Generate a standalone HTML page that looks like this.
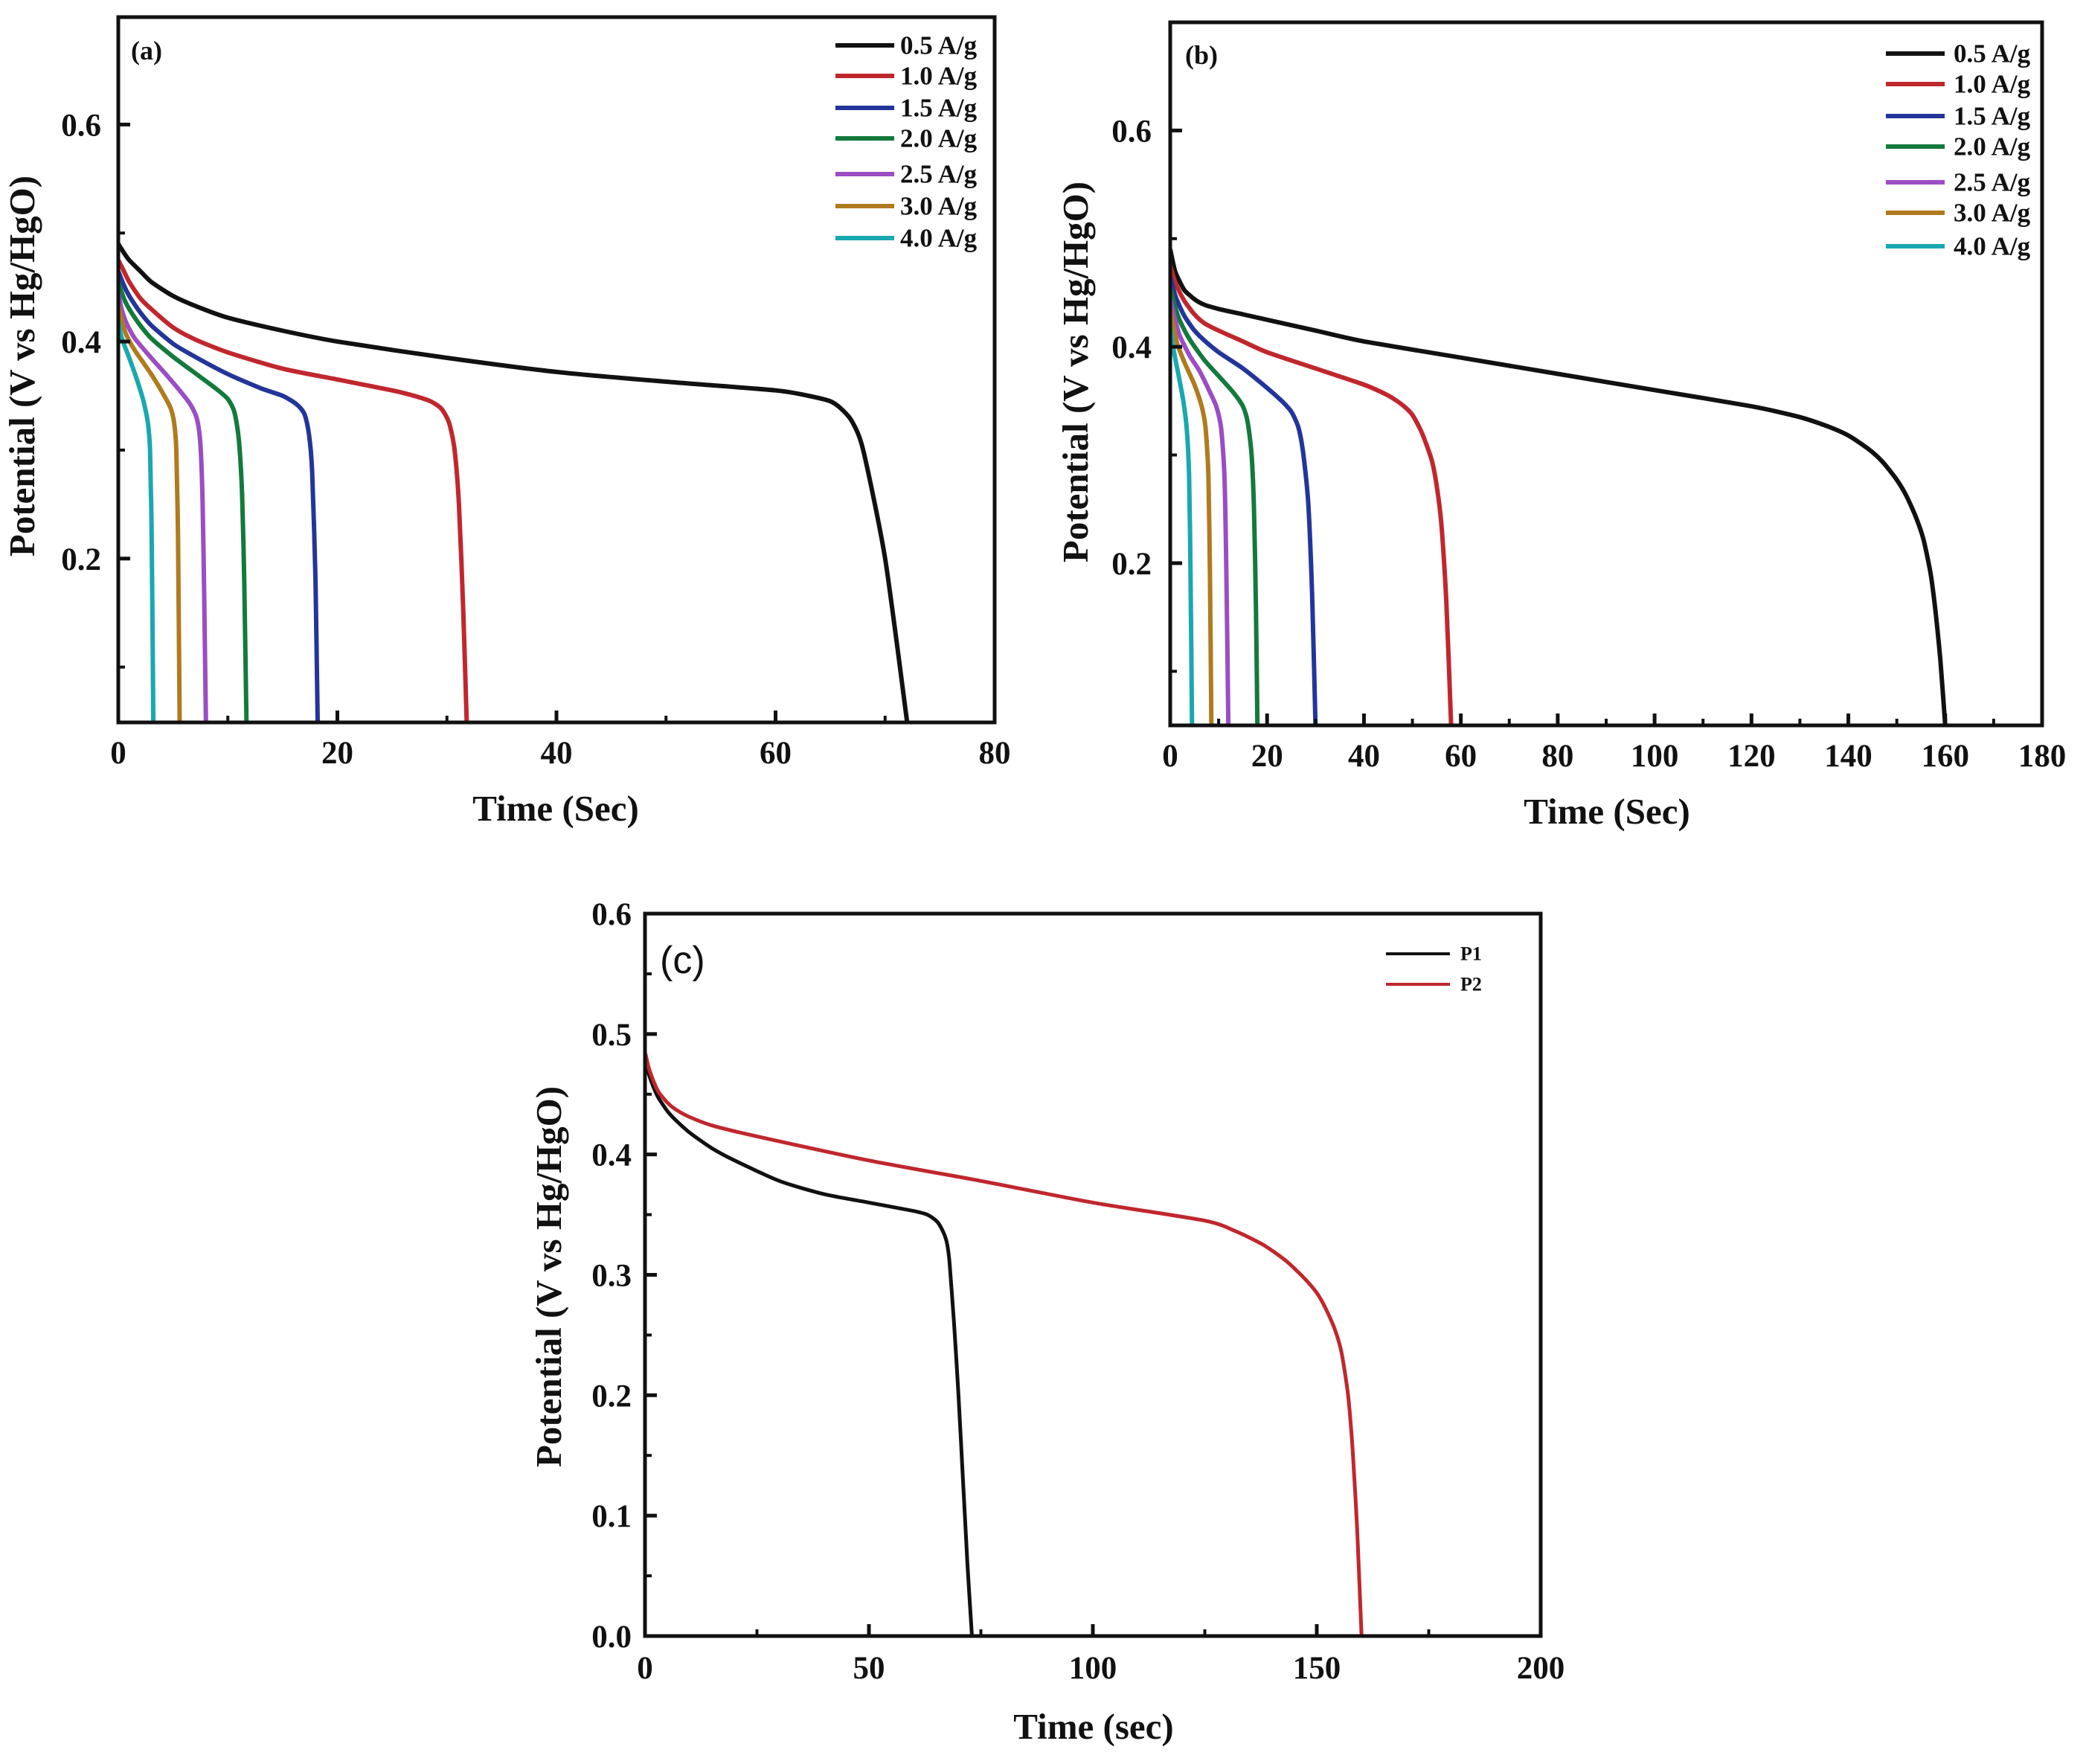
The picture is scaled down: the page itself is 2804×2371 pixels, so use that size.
<!DOCTYPE html>
<html><head><meta charset="utf-8">
<style>
html,body{margin:0;padding:0;background:#fff;}
svg{display:block;}
text{font-family:"Liberation Serif",serif;font-weight:bold;fill:#111;}
</style></head>
<body>
<svg id="fig" width="2804" height="2371" viewBox="0 0 2804 2371" xmlns="http://www.w3.org/2000/svg"></svg>
<script>
// ---------- Panel (a) data ----------
const aLabels = ["0.5 A/g","1.0 A/g","1.5 A/g","2.0 A/g","2.5 A/g","3.0 A/g","4.0 A/g"];
const aColors = ["#111111","#c0272d","#23359a","#137a3c","#9b4dc4","#b07a1e","#1aa8b0"];
const aT05 = [0,0.5,1,2,3,5,7,10,15,20,30,40,50,60,63,65,66,67,68,70,72];
const aV05 = [0.49,0.482,0.475,0.465,0.455,0.442,0.433,0.422,0.41,0.40,0.385,0.372,0.363,0.355,0.35,0.345,0.338,0.326,0.3,0.2,0.05];
const aT10 = [0,0.5,1,2,3,5,7,10,15,20,25,27,28.5,29.5,30.2,30.7,31.1,31.5,31.8];
const aV10 = [0.475,0.465,0.455,0.44,0.43,0.413,0.402,0.39,0.375,0.365,0.355,0.35,0.345,0.338,0.325,0.3,0.25,0.15,0.05];
const aT15 = [0,0.5,1,2,3,5,7,10,13,15,16.3,17,17.4,17.7,18,18.2];
const aV15 = [0.465,0.452,0.442,0.427,0.415,0.398,0.386,0.37,0.357,0.35,0.342,0.333,0.315,0.28,0.18,0.05];
const aT20 = [0,0.5,1,2,3,5,7,9,10,10.6,11,11.3,11.5,11.7];
const aV20 = [0.455,0.44,0.43,0.415,0.403,0.386,0.371,0.356,0.347,0.335,0.31,0.26,0.18,0.05];
const aT25 = [0,0.3,0.7,1.5,3,4.5,6,6.7,7.2,7.5,7.7,7.85,8];
const aV25 = [0.445,0.43,0.418,0.403,0.385,0.368,0.35,0.34,0.328,0.305,0.25,0.16,0.05];
const aT30 = [0,0.3,0.7,1.5,3,4.2,4.8,5.1,5.3,5.45,5.6];
const aV30 = [0.435,0.42,0.407,0.392,0.37,0.35,0.338,0.325,0.3,0.22,0.05];
const aT40 = [0,0.2,0.5,1,1.7,2.3,2.7,2.9,3.05,3.2];
const aV40 = [0.42,0.408,0.398,0.385,0.365,0.345,0.325,0.3,0.22,0.05];
const aTs = [aT05,aT10,aT15,aT20,aT25,aT30,aT40];
const aVs = [aV05,aV10,aV15,aV20,aV25,aV30,aV40];
const aXTicks = [0,20,40,60,80];
const aYTicks = [0.2,0.4,0.6];

// ---------- Panel (b) data ----------
const bT05 = [0,1,2,3,5,7,10,15,20,30,40,60,80,100,120,130,136,140,144,147,150,152,154,155.5,157,158,159,160];
const bV05 = [0.49,0.47,0.46,0.452,0.444,0.439,0.435,0.43,0.425,0.415,0.405,0.39,0.375,0.36,0.345,0.335,0.326,0.318,0.306,0.294,0.277,0.262,0.242,0.222,0.19,0.155,0.11,0.05];
const bT10 = [0,1,2,3,5,7,10,15,20,30,40,45,48,50,52,54,55,56,57,58];
const bV10 = [0.475,0.46,0.45,0.442,0.43,0.422,0.415,0.405,0.395,0.38,0.365,0.355,0.346,0.337,0.32,0.295,0.272,0.235,0.165,0.05];
const bT15 = [0,1,2,3,5,7,10,15,20,23,25,26.5,27.5,28.5,29.3,30];
const bV15 = [0.465,0.448,0.437,0.428,0.415,0.406,0.395,0.38,0.362,0.35,0.34,0.325,0.3,0.255,0.17,0.05];
const bT20 = [0,1,2,4,7,10,13,15,16,16.8,17.3,17.7,18];
const bV20 = [0.455,0.437,0.424,0.407,0.388,0.373,0.358,0.345,0.33,0.3,0.25,0.16,0.05];
const bT25 = [0,1,2,4,6,8,9.5,10.5,11.2,11.6,12];
const bV25 = [0.445,0.425,0.41,0.392,0.378,0.36,0.345,0.325,0.28,0.19,0.05];
const bT30 = [0,0.7,1.5,3,5,6.5,7.3,7.9,8.2,8.5];
const bV30 = [0.435,0.418,0.402,0.385,0.365,0.345,0.325,0.28,0.19,0.05];
const bT40 = [0,0.4,1,1.8,2.7,3.4,3.9,4.2,4.5];
const bV40 = [0.42,0.405,0.39,0.372,0.35,0.325,0.28,0.19,0.05];
const bTs = [bT05,bT10,bT15,bT20,bT25,bT30,bT40];
const bVs = [bV05,bV10,bV15,bV20,bV25,bV30,bV40];
const bXTicks = [0,20,40,60,80,100,120,140,160,180];
const bYTicks = [0.2,0.4,0.6];

// ---------- Panel (c) data ----------
const cLabels = ["P1","P2"];
const cColors = ["#111111","#c0272d"];
const cT1 = [0,0.5,1,2,3,5,7,10,15,20,30,40,50,60,63,65,66,67,67.5,68,69,70,71,72,73];
const cV1 = [0.48,0.472,0.465,0.455,0.447,0.436,0.428,0.418,0.405,0.395,0.378,0.367,0.36,0.353,0.35,0.345,0.34,0.332,0.325,0.31,0.26,0.2,0.13,0.06,0];
const cT2 = [0,0.5,1,2,3,5,7,10,15,25,50,75,100,125,132,138,143,147,150,152,154,155.5,157,158,159,160];
const cV2 = [0.485,0.477,0.47,0.46,0.452,0.443,0.437,0.431,0.424,0.415,0.395,0.378,0.36,0.345,0.336,0.325,0.312,0.298,0.285,0.272,0.255,0.236,0.2,0.155,0.09,0];
const cTs = [cT1,cT2];
const cVs = [cV1,cV2];
const cXTicks = [0,50,100,150,200];
const cYTicks = [0,0.1,0.2,0.3,0.4,0.5,0.6];

const NS = "http://www.w3.org/2000/svg";
const fig = document.getElementById('fig');
function mk(tag, attrs, parent){
  const e = document.createElementNS(NS, tag);
  for (const k in attrs) e.setAttribute(k, attrs[k]);
  (parent||fig).appendChild(e);
  return e;
}
function smoothPath(pts){
  // monotone-ish Catmull-Rom with reduced tension
  let d = 'M' + pts[0][0].toFixed(1) + ' ' + pts[0][1].toFixed(1);
  const k = 0.12;
  for (let i=0;i<pts.length-1;i++){
    const p0 = pts[Math.max(0,i-1)], p1 = pts[i], p2 = pts[i+1], p3 = pts[Math.min(pts.length-1,i+2)];
    const c1x = p1[0] + (p2[0]-p0[0])*k, c1y = p1[1] + (p2[1]-p0[1])*k;
    const c2x = p2[0] - (p3[0]-p1[0])*k, c2y = p2[1] - (p3[1]-p1[1])*k;
    d += ' C' + c1x.toFixed(1)+' '+c1y.toFixed(1)+' '+c2x.toFixed(1)+' '+c2y.toFixed(1)+' '+p2[0].toFixed(1)+' '+p2[1].toFixed(1);
  }
  return d;
}

function panel(cfg){
  const g = mk('g', {});
  
  
  const L=cfg.box[0], T=cfg.box[1], R=cfg.box[2], B=cfg.box[3];
  const sx = t => L + (t - cfg.x0)/(cfg.x1 - cfg.x0)*(R-L);
  const sy = v => B - (v - cfg.y0)/(cfg.y1 - cfg.y0)*(B-T);
  const cid = cfg.name + '-clip';
  const cp = mk('clipPath', {id: cid}, g);
  mk('rect', {x:L, y:T, width:R-L, height:B-T}, cp);
  cfg.ts.forEach((ts, i) => {
    const vs = cfg.vs[i];
    const pts = ts.map((t,j) => [sx(t), sy(vs[j])]);
    const p = mk('path', {d:smoothPath(pts), fill:'none', stroke:cfg.colors[i], 'stroke-width':cfg.lw, 'stroke-linejoin':'round', 'clip-path':'url(#'+cid+')'}, g);
    
    
  });
  const fr = mk('rect', {x:L, y:T, width:R-L, height:B-T, fill:'none', stroke:'#111', 'stroke-width':5}, g);
  
  
  for (let k=0;k<cfg.xTicks.length;k++){
    const t = cfg.xTicks[k], x = sx(t);
    mk('line', {x1:x, y1:B, x2:x, y2:B-16, stroke:'#111', 'stroke-width':5}, g);
    if (k < cfg.xTicks.length-1){
      const xm = sx((t + cfg.xTicks[k+1])/2);
      mk('line', {x1:xm, y1:B, x2:xm, y2:B-9, stroke:'#111', 'stroke-width':4}, g);
    }
    const tx = mk('text', {x:x, y:cfg.xLabY, 'font-size':cfg.tickFs, 'text-anchor':'middle'}, g);
    tx.textContent = String(t);
    
    
  }
  for (let k=0;k<cfg.yTicks.length;k++){
    const v = cfg.yTicks[k], y = sy(v);
    mk('line', {x1:L, y1:y, x2:L+16, y2:y, stroke:'#111', 'stroke-width':5}, g);
    const ty = mk('text', {x:cfg.yLabX, y:y+cfg.tickFs*0.35, 'font-size':cfg.tickFs, 'text-anchor':'end'}, g);
    ty.textContent = v.toFixed(1);
    
    
  }
  cfg.yMinor.forEach(v => { const y = sy(v); mk('line', {x1:L, y1:y, x2:L+9, y2:y, stroke:'#111', 'stroke-width':4}, g); });
  const xt = mk('text', {x:cfg.xTitle[0], y:cfg.xTitle[1], 'font-size':cfg.titleFs, 'text-anchor':'middle'}, g);
  xt.textContent = cfg.xTitleText;
  
  
  const yt = mk('text', {x:0, y:0, 'font-size':cfg.titleFs, 'text-anchor':'middle', transform:'translate('+cfg.yTitle[0]+','+cfg.yTitle[1]+') rotate(-90)'}, g);
  yt.textContent = 'Potential (V vs Hg/HgO)';
  
  
  const pl = mk('text', {x:cfg.tag[0], y:cfg.tag[1], 'font-size':cfg.tag[2], style:cfg.tagStyle||''}, g);
  pl.textContent = cfg.tagText;
  
  
  const lg = mk('g', {}, g);
  
  
  cfg.labels.forEach((lab, i) => {
    const y = cfg.legY[i];
    const e = mk('g', {}, lg);
    
    
    mk('line', {x1:cfg.legX[0], y1:y, x2:cfg.legX[1], y2:y, stroke:cfg.colors[i], 'stroke-width':cfg.legLw}, e);
    const t = mk('text', {x:cfg.legX[2], y:y + cfg.legFs*0.33, 'font-size':cfg.legFs}, e);
    t.textContent = lab;
  });
}

panel({name:'panel-a', box:[159,23,1337,971], x0:0, x1:80, y0:0.049, y1:0.699,
  ts:aTs, vs:aVs, colors:aColors, labels:aLabels, lw:6,
  xTicks:aXTicks, yTicks:aYTicks, yMinor:[0.1,0.3,0.5], tickFs:43, titleFs:49,
  xLabY:1026, yLabX:136, xTitle:[747,1103], xTitleText:'Time (Sec)', yTitle:[46,492],
  tag:[176,80,36], tagText:'(a)',
  legX:[1123,1202,1210], legY:[61,102,145,186,234,277,320], legFs:35, legLw:6});

panel({name:'panel-b', box:[1573,30,2745,975], x0:0, x1:180, y0:0.05, y1:0.7,
  ts:bTs, vs:bVs, colors:aColors, labels:aLabels, lw:6,
  xTicks:bXTicks, yTicks:bYTicks, yMinor:[0.1,0.3,0.5], tickFs:43, titleFs:49,
  xLabY:1030, yLabX:1548, xTitle:[2160,1107], xTitleText:'Time (Sec)', yTitle:[1462,500],
  tag:[1593,86,36], tagText:'(b)',
  legX:[2535,2614,2626], legY:[72,113,156,197,245,286,331], legFs:35, legLw:6});

panel({name:'panel-c', box:[867,1228,2071,2199], x0:0, x1:200, y0:0, y1:0.6,
  ts:cTs, vs:cVs, colors:cColors, labels:cLabels, lw:5,
  xTicks:cXTicks, yTicks:cYTicks, yMinor:[0.05,0.15,0.25,0.35,0.45,0.55], tickFs:43, titleFs:49,
  xLabY:2256, yLabX:849, xTitle:[1470,2337], xTitleText:'Time (sec)', yTitle:[754,1716],
  tag:[887,1308,52], tagText:'(c)', tagStyle:'font-family:"Liberation Sans",sans-serif;font-weight:normal',
  legX:[1863,1949,1963], legY:[1282,1323], legFs:26, legLw:4});
</script>
</body></html>
